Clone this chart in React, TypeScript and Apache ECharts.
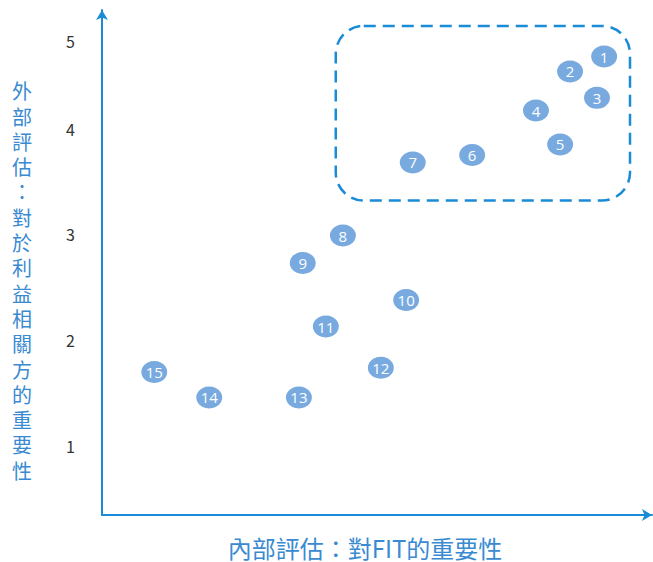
import React, { useEffect, useRef } from 'react';
import * as echarts from 'echarts';

const pointIds = ['1', '2', '3', '4', '5', '6', '7', '8', '9', '10', '11', '12', '13', '14', '15'];
const xValues = [9.13, 8.51, 9.0, 7.89, 8.33, 6.73, 5.65, 4.38, 3.65, 5.53, 4.07, 5.07, 3.58, 1.95, 0.95];
const yValues = [4.68, 4.54, 4.29, 4.17, 3.85, 3.75, 3.68, 2.99, 2.73, 2.38, 2.13, 1.74, 1.46, 1.46, 1.7];
const yTickValues = [1, 2, 3, 4, 4.83];
const yTickLabels = ['1', '2', '3', '4', '5'];
const xAxisTitle = '內部評估：對FIT的重要性';
const yAxisTitle = '外部評估：對於利益相關方的重要性';
const highlightX = [4.25, 9.6];
const highlightY = [3.32, 4.97];

const AXIS_COLOR = '#1a8bd6';
const POINT_COLOR = '#78aadf';
const TITLE_COLOR = '#3a8ad2';
const FONT = "'Noto Sans CJK TC', 'Open Sans', 'Noto Sans', sans-serif";

export default function App() {
  const ref = useRef<HTMLDivElement>(null);

  useEffect(() => {
    if (!ref.current) return;
    const chart = echarts.init(ref.current, undefined, { renderer: 'svg' });
    const data = pointIds.map((id, i) => ({ value: [xValues[i], yValues[i]], name: id }));

    chart.setOption({
      animation: false,
      backgroundColor: '#ffffff',
      textStyle: { fontFamily: FONT },
      grid: { left: 102, right: 1, top: 10, bottom: 47, containLabel: false, outerBoundsMode: 'none' },
      xAxis: {
        type: 'value',
        min: 0,
        max: 10,
        splitLine: { show: false },
        axisTick: { show: false },
        axisLabel: { show: false },
        axisLine: {
          show: true,
          lineStyle: { color: AXIS_COLOR, width: 2 },
          symbol: ['none', 'arrow'],
          symbolSize: [9, 10],
        },
        name: xAxisTitle,
        nameLocation: 'middle',
        nameGap: 20,
        nameTextStyle: {
          color: TITLE_COLOR,
          fontSize: 24,
          fontFamily: FONT,
          padding: [0, 24, 0, 0],
        },
      },
      yAxis: {
        type: 'value',
        min: 0.35,
        max: 5.12,
        splitLine: { show: false },
        axisTick: { show: false },
        axisLine: {
          show: true,
          lineStyle: { color: AXIS_COLOR, width: 2 },
          symbol: ['none', 'arrow'],
          symbolSize: [9, 10],
        },
        axisLabel: {
          show: true,
          customValues: yTickValues,
          formatter: (v: number) => {
            const idx = yTickValues.findIndex((t) => Math.abs(t - v) < 1e-6);
            return idx >= 0 ? yTickLabels[idx] : '';
          },
          color: '#333333',
          fontSize: 16,
          fontFamily: FONT,
          margin: 27,
        },
        name: yAxisTitle
          .split('')
          .map((c) => `{c|${c}}`)
          .join('\n'),
        nameLocation: 'middle',
        nameRotate: 0,
        nameGap: 80,
        nameTextStyle: {
          align: 'center',
          verticalAlign: 'middle',
          padding: [36, 0, 0, 0],
          rich: {
            c: {
              color: TITLE_COLOR,
              fontSize: 20,
              lineHeight: 25.3,
              fontFamily: FONT,
              align: 'center',
            },
          },
        },
      },
      series: [
        {
          type: 'scatter',
          data,
          symbol: 'circle',
          symbolSize: [26, 22],
          itemStyle: { color: POINT_COLOR, opacity: 1 },
          label: {
            show: true,
            position: 'inside',
            formatter: (p: any) => p.name,
            color: '#ffffff',
            fontSize: 15,
            fontFamily: "'Open Sans', 'Noto Sans', sans-serif",
          },
        },
      ],
    });

    const p1 = chart.convertToPixel({ gridIndex: 0 }, [highlightX[0], highlightY[1]]) as number[];
    const p2 = chart.convertToPixel({ gridIndex: 0 }, [highlightX[1], highlightY[0]]) as number[];
    chart.setOption({
      graphic: [
        {
          type: 'rect',
          shape: {
            x: p1[0],
            y: p1[1],
            width: p2[0] - p1[0],
            height: p2[1] - p1[1],
            r: 28,
          },
          style: {
            fill: 'none',
            stroke: AXIS_COLOR,
            lineWidth: 2.5,
            lineDash: [12, 7],
          },
          z: 0,
        },
      ],
    });

    return () => chart.dispose();
  }, []);

  return (
    <div
      ref={ref}
      style={{ position: 'fixed', left: 0, top: 0, width: 653, height: 562, background: '#fff' }}
    />
  );
}
